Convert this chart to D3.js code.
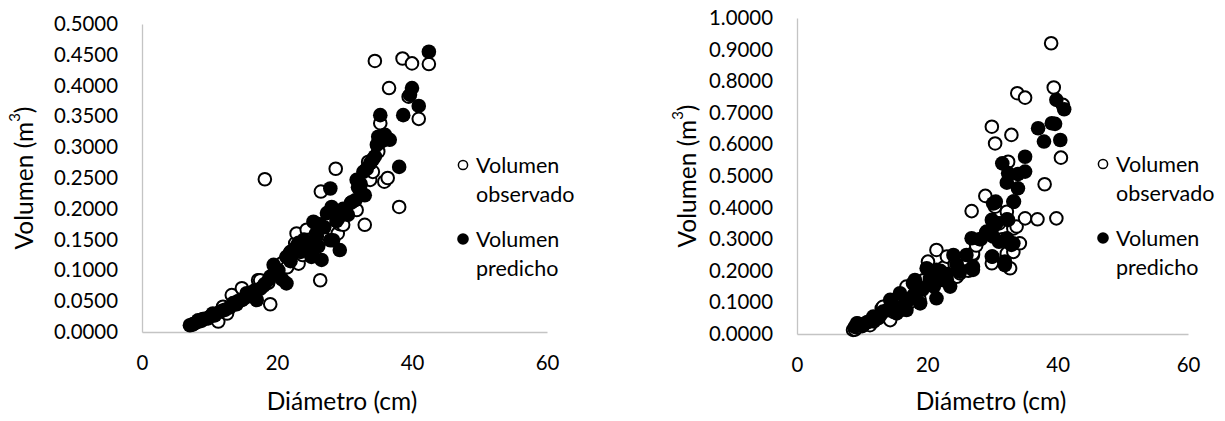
<!DOCTYPE html>
<html>
<head>
<meta charset="utf-8">
<script src="https://cdn.jsdelivr.net/npm/d3@7"></script>
<style>
  html, body { margin: 0; padding: 0; background: #fff; }
  svg { display: block; }
  text { font-family: Lato, "Open Sans", sans-serif; fill: #000; }
</style>
</head>
<body>
<svg id="chart" width="1225" height="421"></svg>
<script>
// Diameter (cm) and volume (m³) for the first panel
const leftObsD = [7.5, 8.2, 9.0, 9.8, 10.5, 11.3, 11.8, 12.0, 12.6, 13.3, 13.8, 14.3, 14.8, 15.2, 15.8, 16.3, 17.0, 17.2, 17.5, 18.0, 18.2, 18.7, 19.0, 19.6, 20.3, 20.8, 21.5, 22.0, 22.6, 22.7, 22.9, 23.2, 23.3, 23.8, 24.4, 24.9, 25.5, 26.0, 26.4, 26.5, 27.0, 27.5, 28.0, 28.3, 28.7, 29.0, 29.3, 29.8, 30.5, 31.0, 31.8, 32.3, 33.0, 33.5, 33.8, 34.2, 34.5, 35.0, 35.3, 35.5, 35.9, 36.4, 36.6, 38.1, 38.6, 39.5, 40.0, 41.0, 42.5];
const leftObsV = [0.012, 0.016, 0.020, 0.022, 0.028, 0.017, 0.035, 0.041, 0.030, 0.060, 0.045, 0.050, 0.071, 0.055, 0.062, 0.058, 0.070, 0.084, 0.084, 0.075, 0.248, 0.080, 0.045, 0.095, 0.100, 0.112, 0.105, 0.130, 0.115, 0.144, 0.160, 0.111, 0.140, 0.125, 0.166, 0.150, 0.135, 0.175, 0.084, 0.228, 0.160, 0.190, 0.180, 0.166, 0.265, 0.160, 0.175, 0.174, 0.200, 0.210, 0.198, 0.230, 0.174, 0.276, 0.247, 0.260, 0.440, 0.293, 0.339, 0.310, 0.244, 0.250, 0.396, 0.203, 0.444, 0.382, 0.436, 0.346, 0.435];
const leftPredD = [7.1, 7.6, 8.3, 8.8, 9.0, 9.5, 10.1, 10.5, 10.8, 11.6, 12.0, 12.3, 13.0, 13.5, 14.0, 14.2, 14.8, 15.5, 16.2, 16.5, 17.0, 17.5, 18.2, 18.8, 19.0, 19.5, 19.8, 20.2, 20.8, 21.4, 21.4, 21.9, 22.0, 22.9, 23.2, 23.5, 24.0, 24.2, 24.5, 25.1, 25.4, 25.8, 25.9, 26.1, 26.3, 26.6, 27.0, 27.4, 27.9, 27.9, 28.1, 28.3, 28.8, 29.1, 29.3, 29.8, 30.2, 30.5, 31.0, 31.6, 31.8, 32.0, 32.4, 32.8, 33.0, 33.3, 33.8, 34.2, 34.5, 34.8, 35.0, 35.3, 35.5, 36.0, 36.7, 38.1, 38.7, 39.7, 40.0, 41.0, 42.5];
const leftPredV = [0.011, 0.013, 0.019, 0.018, 0.021, 0.022, 0.025, 0.030, 0.027, 0.033, 0.035, 0.036, 0.040, 0.047, 0.045, 0.050, 0.052, 0.063, 0.060, 0.066, 0.052, 0.070, 0.078, 0.085, 0.090, 0.109, 0.095, 0.100, 0.085, 0.079, 0.122, 0.128, 0.115, 0.139, 0.145, 0.130, 0.150, 0.135, 0.145, 0.122, 0.179, 0.160, 0.155, 0.139, 0.175, 0.117, 0.170, 0.193, 0.233, 0.149, 0.203, 0.149, 0.180, 0.185, 0.133, 0.200, 0.200, 0.190, 0.210, 0.214, 0.247, 0.235, 0.240, 0.260, 0.222, 0.265, 0.274, 0.280, 0.285, 0.304, 0.317, 0.352, 0.310, 0.320, 0.312, 0.268, 0.352, 0.385, 0.396, 0.367, 0.455];

// Diameter (cm) and volume (m³) for the second panel
const rightObsD = [8.6, 8.9, 9.2, 9.5, 10.0, 10.5, 11.2, 11.8, 12.5, 13.0, 13.2, 13.6, 14.3, 14.8, 15.3, 15.8, 16.3, 16.8, 17.3, 17.8, 18.3, 18.8, 19.4, 20.1, 20.4, 20.6, 21.0, 21.4, 22.0, 22.5, 23.0, 23.6, 24.2, 24.5, 25.0, 25.6, 26.3, 26.8, 27.0, 27.0, 27.5, 28.2, 28.9, 29.3, 29.9, 29.9, 30.4, 30.4, 31.0, 31.5, 32.2, 32.2, 32.4, 32.7, 32.9, 33.2, 33.2, 33.7, 33.8, 34.2, 35.0, 35.0, 36.9, 38.0, 39.0, 39.4, 39.8, 40.5, 40.8];
const rightObsV = [0.013, 0.014, 0.020, 0.030, 0.025, 0.033, 0.028, 0.040, 0.050, 0.081, 0.086, 0.060, 0.044, 0.070, 0.090, 0.075, 0.110, 0.150, 0.100, 0.120, 0.135, 0.110, 0.170, 0.229, 0.176, 0.200, 0.160, 0.266, 0.190, 0.210, 0.245, 0.175, 0.220, 0.181, 0.192, 0.230, 0.200, 0.389, 0.250, 0.255, 0.280, 0.300, 0.437, 0.320, 0.656, 0.224, 0.603, 0.403, 0.350, 0.300, 0.387, 0.255, 0.545, 0.208, 0.630, 0.334, 0.260, 0.340, 0.762, 0.287, 0.748, 0.366, 0.363, 0.474, 0.920, 0.780, 0.366, 0.558, 0.725];
const rightPredD = [8.9, 9.2, 9.3, 9.8, 10.2, 10.8, 11.2, 11.7, 11.7, 12.3, 12.8, 13.2, 13.8, 14.3, 14.5, 15.0, 15.3, 15.8, 16.3, 16.8, 17.3, 17.8, 18.1, 18.1, 18.6, 18.9, 19.2, 19.9, 20.4, 21.0, 21.4, 21.4, 21.4, 22.0, 22.5, 23.0, 23.0, 23.5, 24.0, 24.5, 25.0, 25.0, 26.0, 26.8, 27.0, 27.0, 28.0, 29.0, 29.1, 29.9, 29.9, 30.0, 30.1, 30.1, 30.1, 30.4, 30.5, 30.6, 31.0, 31.5, 31.9, 31.9, 32.2, 32.2, 32.2, 32.2, 32.4, 32.4, 32.9, 33.2, 33.2, 33.3, 33.9, 33.9, 35.0, 35.0, 37.0, 37.9, 39.1, 39.6, 39.8, 40.4, 41.0];
const rightPredV = [0.023, 0.034, 0.033, 0.030, 0.028, 0.038, 0.040, 0.044, 0.055, 0.050, 0.060, 0.071, 0.075, 0.108, 0.102, 0.080, 0.065, 0.129, 0.090, 0.076, 0.110, 0.160, 0.129, 0.171, 0.150, 0.097, 0.140, 0.208, 0.170, 0.150, 0.181, 0.113, 0.203, 0.200, 0.170, 0.190, 0.171, 0.150, 0.250, 0.220, 0.203, 0.197, 0.250, 0.303, 0.213, 0.203, 0.300, 0.320, 0.324, 0.245, 0.361, 0.245, 0.340, 0.308, 0.413, 0.416, 0.419, 0.350, 0.292, 0.540, 0.218, 0.229, 0.479, 0.363, 0.303, 0.297, 0.509, 0.361, 0.282, 0.287, 0.419, 0.419, 0.506, 0.461, 0.561, 0.514, 0.651, 0.609, 0.667, 0.665, 0.741, 0.614, 0.711];

// Axis ticks and labels
const xTicks = [0, 20, 40, 60];
const leftYTicks = [0, 0.05, 0.10, 0.15, 0.20, 0.25, 0.30, 0.35, 0.40, 0.45, 0.50];
const rightYTicks = [0, 0.1, 0.2, 0.3, 0.4, 0.5, 0.6, 0.7, 0.8, 0.9, 1.0];
const seriesNames = ["Volumen observado", "Volumen predicho"];
const xTitle = "Diámetro (cm)";

const svg = d3.select("#chart");
svg.append("rect").attr("width", 1225).attr("height", 421).attr("fill", "#fff");

const zip = (a, b) => a.map((v, i) => [v, b[i]]);

function panel(cfg) {
  const g = svg.append("g");
  const x = d3.scaleLinear().domain([0, 60]).range(cfg.xRange);
  const y = d3.scaleLinear().domain(cfg.yDomain).range(cfg.yRange);

  // y axis
  const ya = g.append("g").attr("transform", `translate(${cfg.xRange[0]},0)`)
    .call(d3.axisLeft(y).tickValues(cfg.yTicks).tickFormat(d3.format(".4f")).tickSize(0).tickPadding(24));
  ya.select(".domain").attr("stroke", "#c4c4c4").attr("stroke-width", 1.3);
  ya.selectAll("text").attr("font-size", 20.4).attr("font-family", "Lato").attr("fill", "#000");

  // x axis
  const xa = g.append("g").attr("transform", `translate(0,${cfg.yRange[0]})`)
    .call(d3.axisBottom(x).tickValues(xTicks).tickFormat(d3.format("d")).tickSize(0).tickPadding(24));
  xa.select(".domain").attr("stroke", "#c4c4c4").attr("stroke-width", 1.3);
  xa.selectAll("text").attr("font-size", 20.4).attr("font-family", "Lato").attr("fill", "#000");

  // observed: open circles, then predicted: filled circles on top
  g.append("g").selectAll("circle").data(zip(cfg.obsD, cfg.obsV)).join("circle")
    .attr("cx", d => x(d[0])).attr("cy", d => y(d[1])).attr("r", 6.3)
    .attr("fill", "#fff").attr("stroke", "#000").attr("stroke-width", 2);
  g.append("g").selectAll("circle").data(zip(cfg.predD, cfg.predV)).join("circle")
    .attr("cx", d => x(d[0])).attr("cy", d => y(d[1])).attr("r", 7.3)
    .attr("fill", "#000");

  // axis titles
  const yt = g.append("text")
    .attr("transform", `translate(${cfg.yTitlePos[0]},${cfg.yTitlePos[1]}) rotate(-90)`)
    .attr("text-anchor", "middle").attr("dominant-baseline", "central")
    .attr("font-size", 24.5);
  yt.append("tspan").text("Volumen (m");
  yt.append("tspan").attr("font-size", 15).attr("baseline-shift", "super").text("3");
  yt.append("tspan").text(")");

  g.append("text").attr("x", cfg.xTitlePos[0]).attr("y", cfg.xTitlePos[1])
    .attr("text-anchor", "middle").attr("dominant-baseline", "central")
    .attr("font-size", 24.5).text(xTitle);

  // legend
  const [lx, ly] = cfg.legendPos;
  const words = seriesNames.map(s => s.split(" "));
  g.append("circle").attr("cx", lx).attr("cy", ly).attr("r", 4.6)
    .attr("fill", "#fff").attr("stroke", "#000").attr("stroke-width", 1.5);
  g.append("circle").attr("cx", lx).attr("cy", ly + 74).attr("r", 5.8).attr("fill", "#000");
  words.forEach((w, i) => {
    const t = g.append("text").attr("x", lx + 13).attr("y", ly + i * 74)
      .attr("dominant-baseline", "central").attr("font-size", 21.5);
    t.append("tspan").attr("x", lx + 13).attr("dy", 0).text(w[0]);
    t.append("tspan").attr("x", lx + 13).attr("dy", 28.5).text(w[1]);
  });
}

panel({
  xRange: [142, 547], yDomain: [0, 0.5], yRange: [332, 24], yTicks: leftYTicks,
  obsD: leftObsD, obsV: leftObsV, predD: leftPredD, predV: leftPredV,
  yTitlePos: [23, 178], xTitlePos: [342, 400], legendPos: [463, 165]
});
panel({
  xRange: [797, 1188], yDomain: [0, 1], yRange: [334, 18], yTicks: rightYTicks,
  obsD: rightObsD, obsV: rightObsV, predD: rightPredD, predV: rightPredV,
  yTitlePos: [686, 176], xTitlePos: [991, 400], legendPos: [1103, 164]
});
</script>
</body>
</html>
